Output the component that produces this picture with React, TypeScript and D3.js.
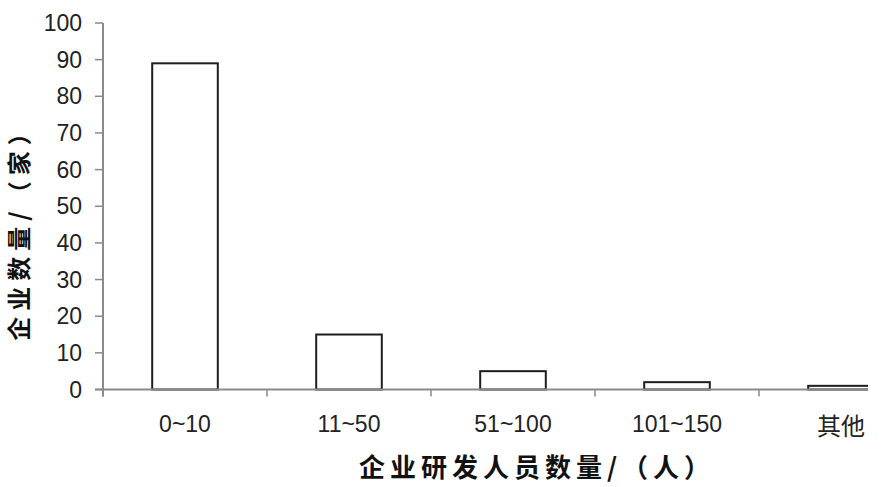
import React from "react";
import * as d3 from "d3";

const categories = ["0~10", "11~50", "51~100", "101~150", "其他"];
const values = [89, 15, 5, 2, 1];
const yTicks = [0, 10, 20, 30, 40, 50, 60, 70, 80, 90, 100];
const xTitle = "企业研发人员数量/（人）";
const yTitle = "企业数量/（家）";

const W = 886;
const H = 487;

export default function App() {
  const x = d3.scaleBand<string>().domain(categories).range([103, 923]).paddingInner(0).paddingOuter(0);
  const y = d3.scaleLinear().domain([0, 100]).range([389.5, 23]);
  const bw = x.bandwidth();
  const barW = bw / 2.5;
  const axisColor = "#8a8a8a";
  const numFont = "'Liberation Sans', Arial, sans-serif";
  const cjkFont = "'Noto Sans CJK SC', sans-serif";

  return (
    <svg width={W} height={H} style={{ position: "absolute", left: 0, top: 0, background: "#fff" }}>
      <defs>
        <clipPath id="plotclip">
          <rect x={0} y={0} width={868} height={H} />
        </clipPath>
      </defs>
      <rect x={0} y={0} width={W} height={H} fill="#fff" />
      <g clipPath="url(#plotclip)">
        {categories.map((c, i) => (
          <rect
            key={c}
            x={(x(c) as number) + (bw - barW) / 2}
            y={y(values[i])}
            width={barW}
            height={y(0) - y(values[i])}
            fill="#fff"
            stroke="#1e1e1e"
            strokeWidth={2}
          />
        ))}
        <line x1={95} x2={923} y1={y(0)} y2={y(0)} stroke={axisColor} strokeWidth={2} />
        {categories.map((c) => (
          <line key={"t" + c} x1={x(c) as number} x2={x(c) as number} y1={y(0)} y2={y(0) + 7} stroke={axisColor} strokeWidth={1.5} />
        ))}
        <line x1={103} x2={103} y1={y(100)} y2={y(0) + 7} stroke={axisColor} strokeWidth={2} />
        {yTicks.map((t) => (
          <line key={"y" + t} x1={95} x2={103} y1={y(t)} y2={y(t)} stroke={axisColor} strokeWidth={1.5} />
        ))}
      </g>
      {yTicks.map((t) => (
        <text
          key={"yl" + t}
          x={82}
          y={y(t)}
          textAnchor="end"
          dominantBaseline="central"
          fontFamily={numFont}
          fontSize={23}
          fill="#222"
        >
          {t}
        </text>
      ))}
      {categories.map((c) => (
        <text
          key={"xl" + c}
          x={(x(c) as number) + bw / 2}
          y={424}
          textAnchor="middle"
          dominantBaseline="central"
          fontFamily={/[0-9]/.test(c) ? numFont : cjkFont}
          fontSize={/[0-9]/.test(c) ? 23 : 24}
          fill="#222"
        >
          {c}
        </text>
      ))}
      <text
        x={537}
        y={465}
        textAnchor="middle"
        dominantBaseline="central"
        fontFamily={cjkFont}
        fontWeight="bold"
        fontSize={26}
        letterSpacing={5}
        fill="#111"
      >
        {xTitle}
      </text>
      <text
        transform={`translate(17,228) rotate(-90)`}
        textAnchor="middle"
        dominantBaseline="central"
        fontFamily={cjkFont}
        fontWeight="bold"
        fontSize={24}
        letterSpacing={6}
        fill="#111"
      >
        {yTitle}
      </text>
    </svg>
  );
}
